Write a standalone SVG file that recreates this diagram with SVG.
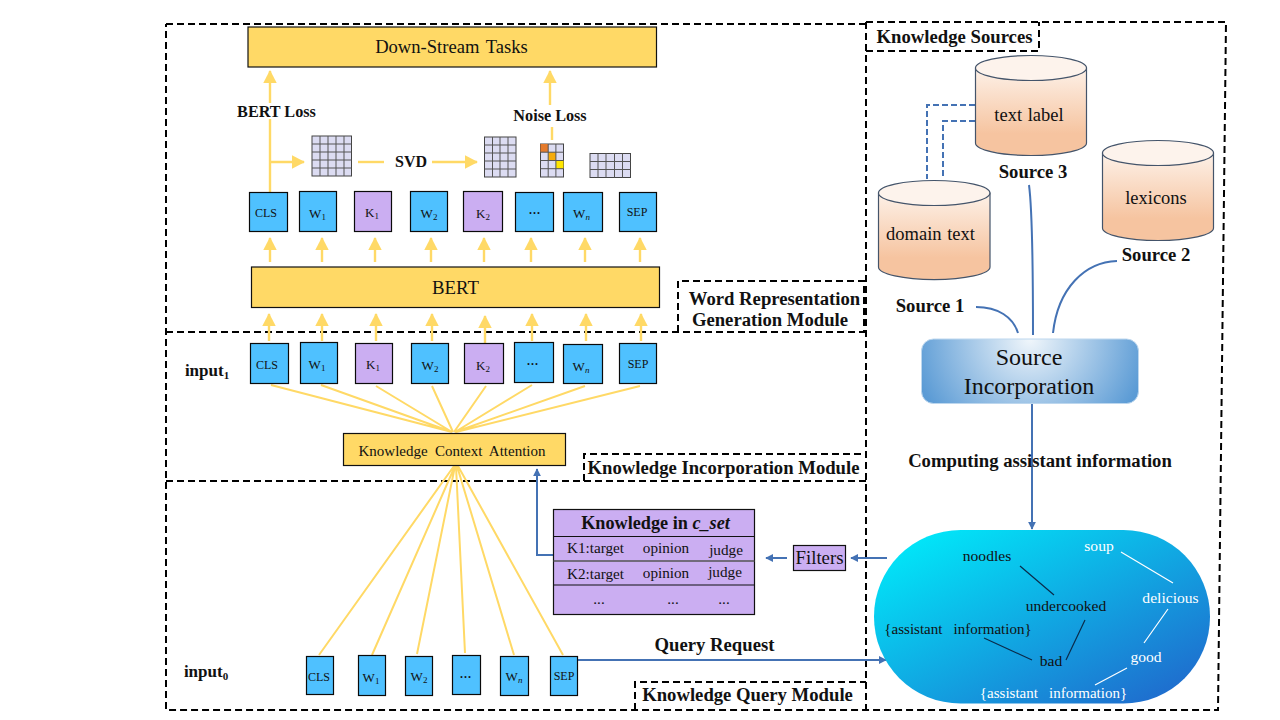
<svg xmlns="http://www.w3.org/2000/svg" width="1280" height="720" viewBox="0 0 1280 720">
<style>
text{font-family:"Liberation Serif","Times New Roman",serif;fill:#111}
.b{font-weight:bold}
.m{font-size:18.7px;text-anchor:middle}
.frame{fill:none;stroke:#000;stroke-width:2;stroke-dasharray:7 4}
.tok{stroke:#0a0a0a;stroke-width:1.2}
.blue{fill:#4fc1ff}.pur{fill:#cbaef2}
.t{font-size:13px;text-anchor:middle}
.c{font-size:12px}
.d{font-size:16px}
.y{stroke:#ffd966;stroke-width:2.4;fill:none}
.yt{stroke:#ffd966;stroke-width:2.4;fill:none;marker-end:url(#ya)}
.bl{stroke:#4472b4;stroke-width:2;fill:none}
.ba{stroke:#4472b4;stroke-width:2;fill:none;marker-end:url(#ba)}
.bd{stroke:#4472b4;stroke-width:2;fill:none;stroke-dasharray:6 3}
.cyl{fill:url(#cy);stroke:#44546a;stroke-width:1.2}
.cap{fill:#fdf3ec;stroke:#44546a;stroke-width:1.2}
.grid{fill:#dcdcf2;stroke:#444;stroke-width:1}
.gl{stroke:#555;stroke-width:1;fill:none}
.fan{stroke:#ffd966;stroke-width:2;fill:none}
.k{stroke:#0b2b4a;stroke-width:1.2}.w{stroke:#fff;stroke-width:1.2}
.wt{fill:#fff}
.p{font-size:15.6px;text-anchor:middle}
.a{font-size:15px;text-anchor:middle}
.tb{font-size:15.2px;text-anchor:middle}
.cn{font-size:18.5px;text-anchor:middle}
.i{font-style:italic}
</style>
<defs>
<marker id="ya" markerWidth="6" markerHeight="6" refX="5" refY="3" orient="auto" markerUnits="strokeWidth"><path d="M0 .2L5.400 3L0 5.800z" fill="#ffd966"/></marker>
<marker id="ba" markerWidth="4" markerHeight="4" refX="3.600" refY="2" orient="auto" markerUnits="strokeWidth"><path d="M0 0L4 2L0 4z" fill="#4472b4"/></marker>
<linearGradient id="cy" x1="0" y1="0" x2="0" y2="1"><stop offset="0" stop-color="#fdf1e8"/><stop offset=".75" stop-color="#f6c4a0"/><stop offset="1" stop-color="#f6c4a0"/></linearGradient>
<radialGradient id="si" gradientUnits="userSpaceOnUse" cx="1030" cy="339" r="118"><stop offset="0" stop-color="#f0f6fb"/><stop offset="1" stop-color="#5b9bd5"/></radialGradient>
<linearGradient id="pill" x1="0.05" y1="0.05" x2="0.95" y2="0.95"><stop offset="0" stop-color="#00ebfa"/><stop offset="1" stop-color="#2068cc"/></linearGradient>
</defs>
<rect width="1280" height="720" fill="#fff"/>

<g id="frames">
<path class="frame" d="M166 24H866M866 22H1226L1218 710H166V24M866 22V710M166 332H866M166 481H866"/>
<path class="frame" d="M678 332V281H864V332"/>
<path class="frame" d="M584 481V454H864"/>
<path class="frame" d="M635 710V682H866"/>
<path class="frame" d="M866 51H1039V22"/>
</g>

<g id="connectors">
<path class="yt" d="M270 103V71"/><path class="y" d="M270 192V119"/>
<path class="yt" d="M270 162H304"/>
<path class="y" d="M358 162H384"/><path class="yt" d="M432 162H477"/>
<path class="yt" d="M550 105V71"/><path class="y" d="M552 127V140"/>
<path class="yt" d="M270 262V238"/><path class="yt" d="M322 262V238"/><path class="yt" d="M375 262V238"/><path class="yt" d="M431 262V238"/><path class="yt" d="M484 262V238"/><path class="yt" d="M531 262V238"/><path class="yt" d="M585 262V238"/><path class="yt" d="M640 262V238"/>
<path class="yt" d="M269 341V314"/><path class="yt" d="M322 341V314"/><path class="yt" d="M376 341V314"/><path class="yt" d="M432 341V314"/><path class="yt" d="M485 343V316"/><path class="yt" d="M532 341V314"/><path class="yt" d="M586 341V314"/><path class="yt" d="M641 341V314"/>
<path class="fan" d="M271 385L452 432M321 385L452 432M376 386L452 432M432 386L453 432M486 386L454 432M532 385L455 432M585 386L455 432M640 386L456 432"/>
<path class="fan" d="M319 655L454 466M372 655L455 466M417 654L455 466M465 653L456 466M514 655L457 466M563 655L458 466"/>
<path class="ba" d="M553 555H537V469"/>
<path class="ba" d="M787 558H766"/>
<path class="ba" d="M887 558H851"/>
<path class="ba" d="M578 660H886"/>
<path class="ba" d="M1032 403V529"/>
<path class="bd" d="M975 105H927V179"/>
<path class="bd" d="M975 121H943V179"/>
<path class="bl" d="M976 307C998 307 1013 317 1018 333"/>
<path class="bl" d="M1029 185C1033 215 1033 290 1033 335"/>
<path class="bl" d="M1117 261C1085 262 1058 288 1053 333"/>
</g>

<g id="down-stream"><rect x="248" y="27" width="408.500" height="40" fill="#ffd966" stroke="#111" stroke-width="1.200"/><text x="451.500" y="53" font-size="18.600" text-anchor="middle" word-spacing="2">Down-Stream Tasks</text></g>
<g id="bert"><rect x="251.500" y="267" width="408" height="40.500" fill="#ffd966" stroke="#111" stroke-width="1.200"/><text x="455.500" y="294" font-size="18.800" text-anchor="middle">BERT</text></g>

<g id="labels-bold">
<text class="b" x="276.500" y="117" font-size="16.200" text-anchor="middle">BERT Loss</text>
<text class="b" x="550" y="121" font-size="16.200" text-anchor="middle">Noise Loss</text>
<text class="b" x="411" y="167" font-size="16" text-anchor="middle">SVD</text>
<text class="b" x="207" y="376" font-size="17" text-anchor="middle">input<tspan font-size="11" dy="3">1</tspan></text>
<text class="b" x="206" y="677" font-size="17" text-anchor="middle">input<tspan font-size="11" dy="3">0</tspan></text>
<text class="b m" x="774.500" y="305">Word Representation</text>
<text class="b m" x="770" y="326">Generation Module</text>
<text class="b m" x="723.500" y="474">Knowledge Incorporation Module</text>
<text class="b m" x="747.500" y="701">Knowledge Query Module</text>
<text class="b m" x="954.500" y="43">Knowledge Sources</text>
<text class="b m" x="930" y="312">Source 1</text>
<text class="b m" x="1156" y="261">Source 2</text>
<text class="b m" x="1033" y="178">Source 3</text>
<text class="b m" x="1040" y="467">Computing assistant information</text>
<text class="b m" x="714.500" y="651">Query Request</text>
</g>

<g id="grid-1"><rect class="grid" x="312" y="136" width="39.500" height="40"/><path class="gl" d="M320 136V176M328 136V176M336 136V176M344 136V176M312 144H351.500M312 152H351.500M312 160H351.500M312 168H351.500"/></g>
<g id="grid-2"><rect class="grid" x="484.500" y="137" width="31.500" height="40"/><path class="gl" d="M492.500 137V177M500 137V177M508 137V177M484.500 145H516M484.500 153H516M484.500 161H516M484.500 169H516"/></g>
<g id="grid-3"><rect class="grid" x="540.500" y="144" width="23" height="33"/><rect x="540.500" y="144" width="7.700" height="8.200" fill="#e57b2c"/><rect x="548.200" y="152.200" width="7.700" height="8.200" fill="#f5ab0c"/><rect x="555.900" y="160.500" width="7.600" height="8.200" fill="#ffe600"/><path class="gl" d="M548.200 144V177M555.900 144V177M540.500 152.200H563.500M540.500 160.500H563.500M540.500 168.700H563.500"/></g>
<g id="grid-4"><rect class="grid" x="590" y="153.500" width="40.500" height="24"/><path class="gl" d="M598 153.500V177.500M606 153.500V177.500M614.500 153.500V177.500M622.500 153.500V177.500M590 161.500H630.500M590 169.500H630.500"/></g>

<g id="row2">
<g id="r2-cls"><rect class="tok blue" x="249.500" y="192.500" width="38" height="39"/><text class="t c" x="266" y="217">CLS</text></g>
<g id="r2-w1"><rect class="tok blue" x="299.500" y="191.500" width="37" height="40"/><text class="t" x="317.500" y="218">W<tspan font-size="9" dy="2">1</tspan></text></g>
<g id="r2-k1"><rect class="tok pur" x="354.500" y="191.500" width="37" height="40"/><text class="t" x="372" y="217">K<tspan font-size="9" dy="2">1</tspan></text></g>
<g id="r2-w2"><rect class="tok blue" x="410.500" y="191.500" width="37" height="40"/><text class="t" x="429" y="218">W<tspan font-size="9" dy="2">2</tspan></text></g>
<g id="r2-k2"><rect class="tok pur" x="463.500" y="191.500" width="39" height="40"/><text class="t" x="483" y="218">K<tspan font-size="9" dy="2">2</tspan></text></g>
<g id="r2-dots"><rect class="tok blue" x="515.500" y="192.500" width="38" height="39"/><text class="t d" x="534.500" y="214">...</text></g>
<g id="r2-wn"><rect class="tok blue" x="563.500" y="192.500" width="39" height="39"/><text class="t" x="581.500" y="218">W<tspan class="i" font-size="9" dy="2">n</tspan></text></g>
<g id="r2-sep"><rect class="tok blue" x="619.500" y="192.500" width="37" height="39"/><text class="t c" x="637" y="216">SEP</text></g>
</g>

<g id="row1">
<g id="r1-cls"><rect class="tok blue" x="250.500" y="343.500" width="38" height="40"/><text class="t c" x="267" y="369">CLS</text></g>
<g id="r1-w1"><rect class="tok blue" x="300.500" y="342.500" width="37" height="41"/><text class="t" x="317" y="369">W<tspan font-size="9" dy="2">1</tspan></text></g>
<g id="r1-k1"><rect class="tok pur" x="355.500" y="343.500" width="37" height="40"/><text class="t" x="373" y="369">K<tspan font-size="9" dy="2">1</tspan></text></g>
<g id="r1-w2"><rect class="tok blue" x="411.500" y="343.500" width="37" height="40"/><text class="t" x="430" y="370">W<tspan font-size="9" dy="2">2</tspan></text></g>
<g id="r1-k2"><rect class="tok pur" x="464.500" y="343.500" width="39" height="40"/><text class="t" x="483" y="370">K<tspan font-size="9" dy="2">2</tspan></text></g>
<g id="r1-dots"><rect class="tok blue" x="514.500" y="342.500" width="39" height="40"/><text class="t d" x="532.500" y="365">...</text></g>
<g id="r1-wn"><rect class="tok blue" x="563.500" y="344.500" width="39" height="39"/><text class="t" x="581" y="371">W<tspan class="i" font-size="9" dy="2">n</tspan></text></g>
<g id="r1-sep"><rect class="tok blue" x="619.500" y="343.500" width="37" height="40"/><text class="t c" x="638" y="368">SEP</text></g>
</g>

<g id="kca"><rect x="343.500" y="433.500" width="222" height="32" fill="#ffd966" stroke="#111" stroke-width="1.200"/><text x="452" y="456" font-size="15" text-anchor="middle" word-spacing="3.500">Knowledge Context Attention</text></g>

<g id="row0">
<g id="r0-cls"><rect class="tok blue" x="306.500" y="656.500" width="27" height="38"/><text class="t c" x="319" y="681">CLS</text></g>
<g id="r0-w1"><rect class="tok blue" x="358.500" y="655.500" width="27" height="40"/><text class="t" x="371" y="682">W<tspan font-size="9" dy="2">1</tspan></text></g>
<g id="r0-w2"><rect class="tok blue" x="405.500" y="656.500" width="27" height="39"/><text class="t" x="419" y="681">W<tspan font-size="9" dy="2">2</tspan></text></g>
<g id="r0-dots"><rect class="tok blue" x="452.500" y="655.500" width="28" height="39"/><text class="t d" x="465.500" y="678">...</text></g>
<g id="r0-wn"><rect class="tok blue" x="500.500" y="656.500" width="28" height="39"/><text class="t" x="514" y="681">W<tspan class="i" font-size="9" dy="2">n</tspan></text></g>
<g id="r0-sep"><rect class="tok blue" x="550.500" y="656.500" width="27" height="39"/><text class="t c" x="564" y="680">SEP</text></g>
</g>

<g id="knowledge-table">
<rect x="553.500" y="509.500" width="201" height="105" fill="#cbaef2" stroke="#111" stroke-width="1.200"/>
<path d="M553.500 536.500H754.500M553.500 585H754.500" stroke="#111" stroke-width="1.200"/><path d="M553.500 561H754.500" stroke="#555" stroke-width="1.600"/>
<text x="655.500" y="529" font-size="18.200" font-weight="bold" text-anchor="middle">Knowledge in <tspan font-style="italic">c_set</tspan></text>
<text class="tb" x="595.500" y="553">K1:target</text><text class="tb" x="666" y="553">opinion</text><text class="tb" x="726" y="555">judge</text>
<text class="tb" x="595.500" y="579">K2:target</text><text class="tb" x="666" y="578">opinion</text><text class="tb" x="725" y="577">judge</text>
<text class="tb" x="599" y="604">...</text><text class="tb" x="673" y="604">...</text><text class="tb" x="724" y="604">...</text>
</g>
<g id="filters"><rect x="793.500" y="545.500" width="52" height="25" fill="#cbaef2" stroke="#111" stroke-width="1.200"/><text x="819.500" y="564" font-size="18.800" text-anchor="middle">Filters</text></g>

<g id="source-incorporation"><rect x="921.500" y="339" width="217" height="64.500" rx="12" fill="url(#si)" stroke="#bdd7ee"/><text x="1029" y="365" font-size="24" text-anchor="middle" fill="#111">Source</text><text x="1029" y="394" font-size="24" text-anchor="middle" fill="#111">Incorporation</text></g>

<g id="cyl-text-label"><path class="cyl" d="M975.500 68V143A55.500 12.500 0 0 0 1086.500 143V68z"/><ellipse class="cap" cx="1031" cy="68" rx="55.500" ry="12.500"/><text class="cn" x="1029" y="121" word-spacing="1">text label</text></g>
<g id="cyl-domain"><path class="cyl" d="M878.500 193V267A55.500 12.500 0 0 0 990 267V193z"/><ellipse class="cap" cx="934.200" cy="193" rx="55.700" ry="12.500"/><text class="cn" x="930.500" y="240" word-spacing="1">domain text</text></g>
<g id="cyl-lexicons"><path class="cyl" d="M1102.500 153V228A55.500 12.500 0 0 0 1213.500 228V153z"/><ellipse class="cap" cx="1158" cy="153" rx="55.500" ry="12.500"/><text class="cn" x="1156" y="204">lexicons</text></g>

<g id="knowledge-graph">
<rect x="874" y="530" width="336" height="173.500" rx="86.500" fill="url(#pill)"/>
<path class="w" d="M1121 552L1173 583M1168 609L1144 643M1127 668L1095 685"/>
<path class="k" d="M1020 566L1054 595M1085 620L1066 660M984 638L1032 660"/>
<text class="p" x="987" y="561">noodles</text>
<text class="p" x="1066" y="611">undercooked</text>
<text class="a" x="958" y="634" xml:space="preserve">{assistant   information}</text>
<text class="p" x="1051" y="666">bad</text>
<text class="p wt" x="1099" y="551">soup</text>
<text class="p wt" x="1170.500" y="603">delicious</text>
<text class="p wt" x="1146" y="662">good</text>
<text class="a wt" x="1053.500" y="698" xml:space="preserve">{assistant   information}</text>
</g>
</svg>
